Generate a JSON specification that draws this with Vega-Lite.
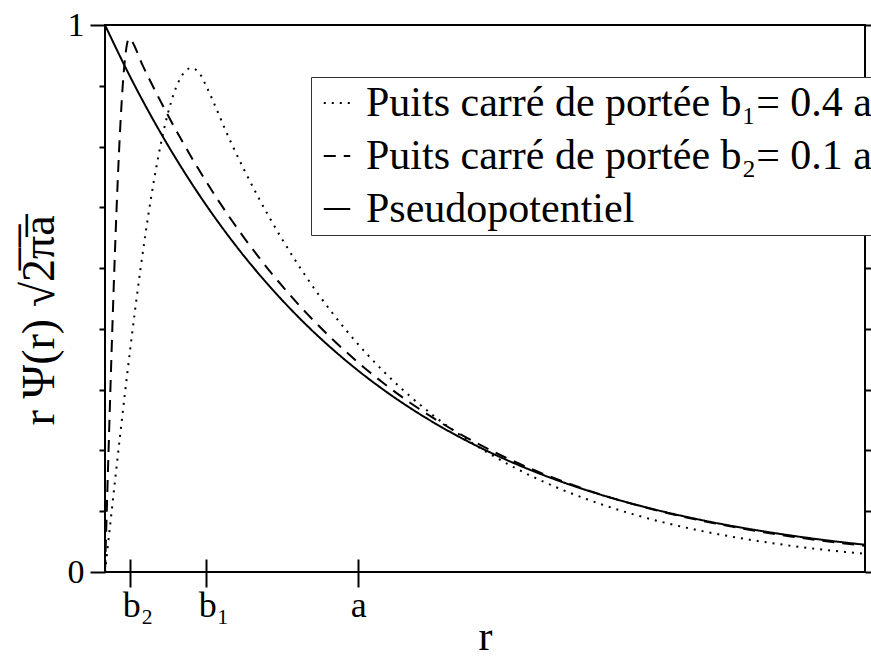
{
  "$schema": "https://vega.github.io/schema/vega-lite/v6.json",
  "width": 760,
  "height": 547,
  "autosize": {"type": "none"},
  "padding": {"left": 105, "top": 25, "right": 6, "bottom": 86},
  "background": "white",
  "config": {
    "view": {"stroke": "black", "strokeWidth": 2},
    "font": "Liberation Serif",
    "axis": {"grid": false, "domain": false, "tickColor": "black", "tickWidth": 2, "labelColor": "black", "titleColor": "black", "labelFont": "Liberation Serif", "titleFont": "Liberation Serif", "titleFontWeight": "normal"}
  },
  "data": {
    "values": [
      {"s": "P", "r": 0, "v": 1},
      {"s": "P", "r": 0.1, "v": 0.9048},
      {"s": "P", "r": 0.2, "v": 0.8187},
      {"s": "P", "r": 0.3, "v": 0.7408},
      {"s": "P", "r": 0.4, "v": 0.6703},
      {"s": "P", "r": 0.5, "v": 0.6065},
      {"s": "P", "r": 0.6, "v": 0.5488},
      {"s": "P", "r": 0.7, "v": 0.4966},
      {"s": "P", "r": 0.8, "v": 0.4493},
      {"s": "P", "r": 0.9, "v": 0.4066},
      {"s": "P", "r": 1.0, "v": 0.3679},
      {"s": "P", "r": 1.1, "v": 0.3329},
      {"s": "P", "r": 1.2, "v": 0.3012},
      {"s": "P", "r": 1.3, "v": 0.2725},
      {"s": "P", "r": 1.4, "v": 0.2466},
      {"s": "P", "r": 1.5, "v": 0.2231},
      {"s": "P", "r": 1.6, "v": 0.2019},
      {"s": "P", "r": 1.7, "v": 0.1827},
      {"s": "P", "r": 1.8, "v": 0.1653},
      {"s": "P", "r": 1.9, "v": 0.1496},
      {"s": "P", "r": 2.0, "v": 0.1353},
      {"s": "P", "r": 2.1, "v": 0.1225},
      {"s": "P", "r": 2.2, "v": 0.1108},
      {"s": "P", "r": 2.3, "v": 0.1003},
      {"s": "P", "r": 2.4, "v": 0.0907},
      {"s": "P", "r": 2.5, "v": 0.0821},
      {"s": "P", "r": 2.6, "v": 0.0743},
      {"s": "P", "r": 2.7, "v": 0.0672},
      {"s": "P", "r": 2.8, "v": 0.0608},
      {"s": "P", "r": 2.9, "v": 0.055},
      {"s": "P", "r": 3.0, "v": 0.0498},
      {"s": "b2", "r": 0, "v": 0},
      {"s": "b2", "r": 0.01, "v": 0.1591},
      {"s": "b2", "r": 0.02, "v": 0.3139},
      {"s": "b2", "r": 0.03, "v": 0.4603},
      {"s": "b2", "r": 0.04, "v": 0.5945},
      {"s": "b2", "r": 0.05, "v": 0.7127},
      {"s": "b2", "r": 0.06, "v": 0.8116},
      {"s": "b2", "r": 0.07, "v": 0.8891},
      {"s": "b2", "r": 0.08, "v": 0.9428},
      {"s": "b2", "r": 0.09, "v": 0.9714},
      {"s": "b2", "r": 0.095, "v": 0.9759},
      {"s": "b2", "r": 0.1, "v": 0.974},
      {"s": "b2", "r": 0.15, "v": 0.9247},
      {"s": "b2", "r": 0.2, "v": 0.878},
      {"s": "b2", "r": 0.3, "v": 0.7914},
      {"s": "b2", "r": 0.4, "v": 0.7133},
      {"s": "b2", "r": 0.5, "v": 0.643},
      {"s": "b2", "r": 0.6, "v": 0.5796},
      {"s": "b2", "r": 0.7, "v": 0.5225},
      {"s": "b2", "r": 0.8, "v": 0.471},
      {"s": "b2", "r": 0.9, "v": 0.4246},
      {"s": "b2", "r": 1.0, "v": 0.3827},
      {"s": "b2", "r": 1.1, "v": 0.345},
      {"s": "b2", "r": 1.2, "v": 0.3109},
      {"s": "b2", "r": 1.3, "v": 0.2803},
      {"s": "b2", "r": 1.4, "v": 0.2527},
      {"s": "b2", "r": 1.5, "v": 0.2277},
      {"s": "b2", "r": 1.6, "v": 0.2053},
      {"s": "b2", "r": 1.7, "v": 0.1851},
      {"s": "b2", "r": 1.8, "v": 0.1668},
      {"s": "b2", "r": 1.9, "v": 0.1504},
      {"s": "b2", "r": 2.0, "v": 0.1355},
      {"s": "b2", "r": 2.1, "v": 0.1222},
      {"s": "b2", "r": 2.2, "v": 0.1101},
      {"s": "b2", "r": 2.3, "v": 0.0993},
      {"s": "b2", "r": 2.4, "v": 0.0895},
      {"s": "b2", "r": 2.5, "v": 0.0807},
      {"s": "b2", "r": 2.6, "v": 0.0727},
      {"s": "b2", "r": 2.7, "v": 0.0655},
      {"s": "b2", "r": 2.8, "v": 0.0591},
      {"s": "b2", "r": 2.9, "v": 0.0532},
      {"s": "b2", "r": 3.0, "v": 0.048},
      {"s": "b1", "r": 0, "v": 0},
      {"s": "b1", "r": 0.02, "v": 0.0847},
      {"s": "b1", "r": 0.04, "v": 0.1687},
      {"s": "b1", "r": 0.06, "v": 0.2513},
      {"s": "b1", "r": 0.08, "v": 0.3317},
      {"s": "b1", "r": 0.1, "v": 0.4093},
      {"s": "b1", "r": 0.12, "v": 0.4835},
      {"s": "b1", "r": 0.14, "v": 0.5535},
      {"s": "b1", "r": 0.16, "v": 0.6189},
      {"s": "b1", "r": 0.18, "v": 0.6791},
      {"s": "b1", "r": 0.2, "v": 0.7334},
      {"s": "b1", "r": 0.22, "v": 0.7818},
      {"s": "b1", "r": 0.24, "v": 0.8233},
      {"s": "b1", "r": 0.26, "v": 0.8577},
      {"s": "b1", "r": 0.28, "v": 0.885},
      {"s": "b1", "r": 0.3, "v": 0.9049},
      {"s": "b1", "r": 0.32, "v": 0.917},
      {"s": "b1", "r": 0.34, "v": 0.9214},
      {"s": "b1", "r": 0.36, "v": 0.9179},
      {"s": "b1", "r": 0.38, "v": 0.9068},
      {"s": "b1", "r": 0.4, "v": 0.8879},
      {"s": "b1", "r": 0.5, "v": 0.7826},
      {"s": "b1", "r": 0.6, "v": 0.6896},
      {"s": "b1", "r": 0.7, "v": 0.6078},
      {"s": "b1", "r": 0.8, "v": 0.5356},
      {"s": "b1", "r": 0.9, "v": 0.472},
      {"s": "b1", "r": 1.0, "v": 0.4159},
      {"s": "b1", "r": 1.1, "v": 0.3666},
      {"s": "b1", "r": 1.2, "v": 0.323},
      {"s": "b1", "r": 1.3, "v": 0.2847},
      {"s": "b1", "r": 1.4, "v": 0.2509},
      {"s": "b1", "r": 1.5, "v": 0.2211},
      {"s": "b1", "r": 1.6, "v": 0.1948},
      {"s": "b1", "r": 1.7, "v": 0.1717},
      {"s": "b1", "r": 1.8, "v": 0.1513},
      {"s": "b1", "r": 1.9, "v": 0.1334},
      {"s": "b1", "r": 2.0, "v": 0.1175},
      {"s": "b1", "r": 2.1, "v": 0.1035},
      {"s": "b1", "r": 2.2, "v": 0.0913},
      {"s": "b1", "r": 2.3, "v": 0.0804},
      {"s": "b1", "r": 2.4, "v": 0.0709},
      {"s": "b1", "r": 2.5, "v": 0.0625},
      {"s": "b1", "r": 2.6, "v": 0.055},
      {"s": "b1", "r": 2.7, "v": 0.0485},
      {"s": "b1", "r": 2.8, "v": 0.0427},
      {"s": "b1", "r": 2.9, "v": 0.0377},
      {"s": "b1", "r": 3.0, "v": 0.0332}
    ]
  },
  "layer": [
    {
      "mark": {"type": "line", "interpolate": "monotone", "strokeWidth": 2, "color": "black"},
      "encoding": {
        "x": {
          "field": "r", "type": "quantitative",
          "scale": {"domain": [0, 3], "nice": false, "zero": false},
          "axis": {
            "orient": "bottom", "values": [0.1, 0.4, 1], "tickSize": 15,
            "labelExpr": "datum.value == 0.1 ? 'b₂' : (datum.value == 0.4 ? 'b₁' : 'a')",
            "labelFontSize": 36, "labelPadding": 1, "labelAlign": "left", "labelOffset": -8,
            "title": "r", "titleFontSize": 42, "titleY": 77, "titleBaseline": "alphabetic"
          }
        },
        "y": {
          "field": "v", "type": "quantitative",
          "scale": {"domain": [0, 1], "nice": false},
          "axis": {
            "orient": "left",
            "values": [0, 0.1111111, 0.2222222, 0.3333333, 0.4444444, 0.5555556, 0.6666667, 0.7777778, 0.8888889, 1],
            "tickSize": {"condition": {"test": "datum.value == 0 || datum.value == 1", "value": 15}, "value": 6},
            "labelExpr": "datum.value == 0 ? '0' : (datum.value == 1 ? '1' : '')",
            "labelFontSize": 34, "labelPadding": 6,
            "title": "r Ψ(r) √2̅π̅a̅", "titleFontSize": 46, "titleAngle": -90,
            "titleX": -66, "titleY": 295, "titleAlign": "center", "titleBaseline": "middle"
          }
        },
        "strokeDash": {
          "field": "s", "type": "nominal",
          "scale": {"domain": ["b1", "b2", "P"], "range": [[2, 6], [12, 8], [1, 0]]},
          "legend": {
            "orient": "none", "legendX": 206, "legendY": 52, "title": null,
            "labelExpr": "datum.label == 'b1' ? 'Puits carré de portée b₁= 0.4 a' : (datum.label == 'b2' ? 'Puits carré de portée b₂= 0.1 a' : 'Pseudopotentiel')",
            "labelFontSize": 42, "labelFont": "Liberation Serif", "labelColor": "black", "labelLimit": 0,
            "symbolType": "stroke", "symbolSize": 700, "symbolStrokeWidth": 2, "symbolStrokeColor": "black",
            "labelOffset": 8, "rowPadding": 11, "padding": 5,
            "strokeColor": "#333", "fillColor": "white"
          }
        }
      }
    },
    {
      "mark": {"type": "line", "opacity": 0},
      "encoding": {
        "x": {
          "field": "r", "type": "quantitative",
          "axis": {"orient": "top", "values": [0.1, 0.4, 1], "labels": false, "tickSize": 13, "offset": -547, "title": null}
        },
        "y": {
          "field": "v", "type": "quantitative",
          "axis": {
            "orient": "right",
            "values": [0, 0.1111111, 0.2222222, 0.3333333, 0.4444444, 0.5555556, 0.6666667, 0.7777778, 0.8888889, 1],
            "labels": false, "tickSize": 6, "title": null
          }
        },
        "detail": {"field": "s"}
      }
    }
  ],
  "resolve": {"axis": {"x": "independent", "y": "independent"}}
}
